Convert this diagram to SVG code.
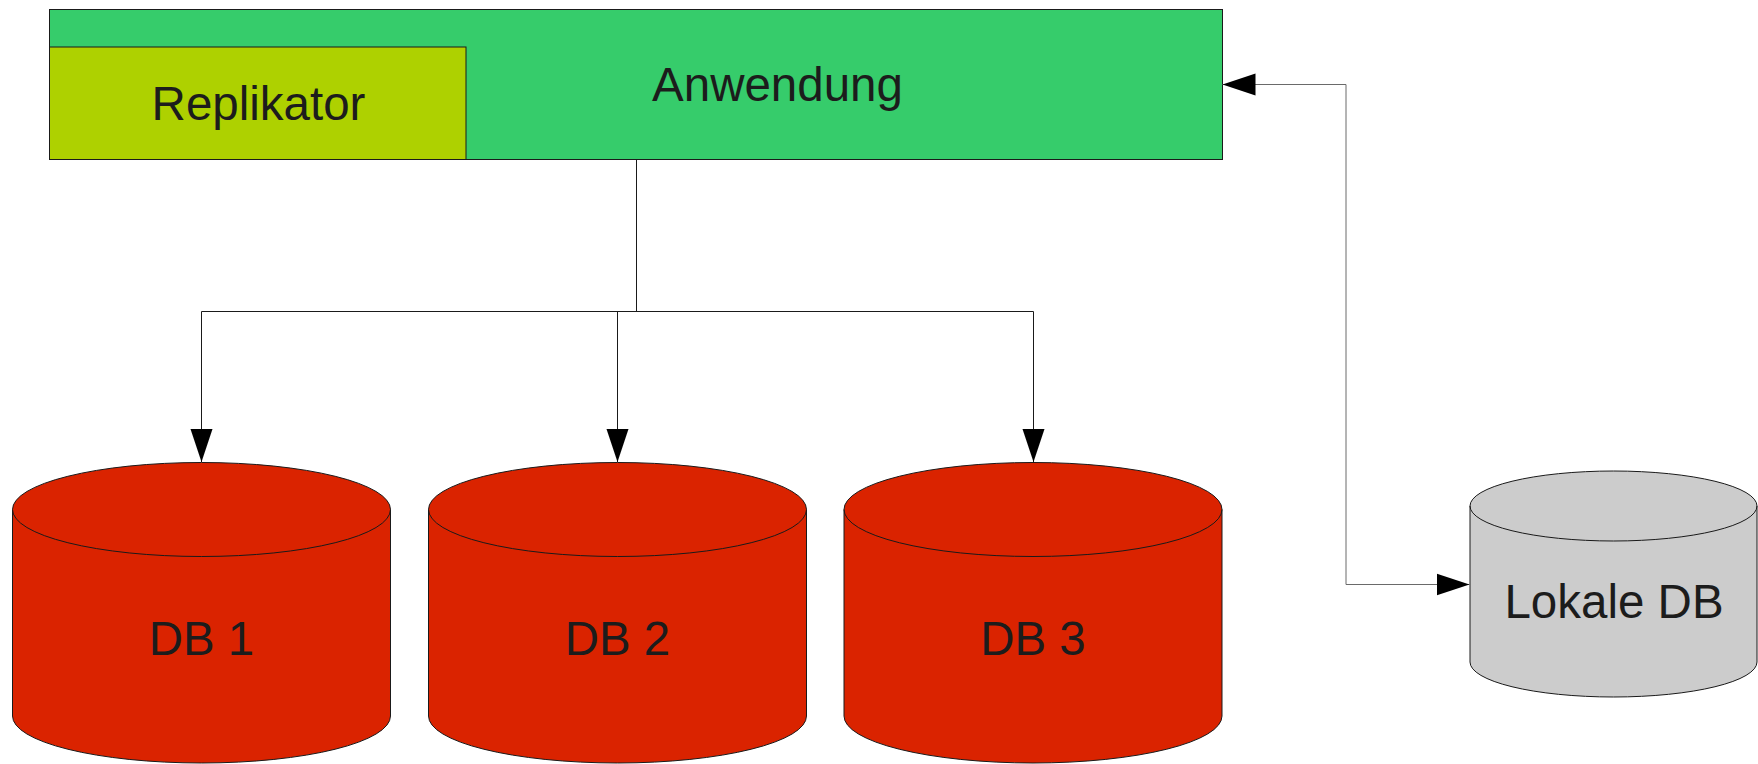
<svg xmlns="http://www.w3.org/2000/svg" width="1758" height="764" viewBox="0 0 1758 764">
<style>
text{font-family:"Liberation Sans",Arial,sans-serif;font-size:47.5px;fill:#1c1c1c;text-anchor:middle}
.box{stroke:#1a1a1a;stroke-width:1}
.red{fill:#da2300}
.grey{fill:#cccccc}
.cyl{stroke:#1a1a1a;stroke-width:1}
.ln{fill:none;stroke:#1a1a1a;stroke-width:1}
.lg{fill:none;stroke:#6a6a6a;stroke-width:1}
</style>
<defs>
<marker id="ah" markerUnits="userSpaceOnUse" markerWidth="34" markerHeight="24" refX="33" refY="11" orient="auto" viewBox="0 0 34 22">
<path d="M0,0 L33,11 L0,22 Z" fill="#000"/>
</marker>
</defs>
<rect width="1758" height="764" fill="#fff"/>
<g id="anwendung">
<rect class="box" x="49.5" y="9.5" width="1173" height="150" fill="#36cc6b"/>
<text x="777.5" y="101">Anwendung</text>
</g>
<g id="replikator">
<rect class="box" x="49.5" y="47" width="416.5" height="112.5" fill="#aed100"/>
<text x="258.5" y="120">Replikator</text>
</g>
<g id="db1">
<path class="cyl red" d="M12.5,509.5 A189,47 0 0 1 390.5,509.5 L390.5,716 A189,47 0 0 1 12.5,716 Z"/>
<path class="cyl" fill="none" d="M12.5,509.5 A189,47 0 0 0 390.5,509.5"/>
<text x="201.5" y="655">DB 1</text>
</g>
<g id="db2">
<path class="cyl red" d="M428.5,509.5 A189,47 0 0 1 806.5,509.5 L806.5,716 A189,47 0 0 1 428.5,716 Z"/>
<path class="cyl" fill="none" d="M428.5,509.5 A189,47 0 0 0 806.5,509.5"/>
<text x="617.5" y="655">DB 2</text>
</g>
<g id="db3">
<path class="cyl red" d="M844,509.5 A189,47 0 0 1 1222,509.5 L1222,716 A189,47 0 0 1 844,716 Z"/>
<path class="cyl" fill="none" d="M844,509.5 A189,47 0 0 0 1222,509.5"/>
<text x="1033" y="655">DB 3</text>
</g>
<g id="lokale-db">
<path class="cyl grey" d="M1470,506 A143.5,35 0 0 1 1757,506 L1757,662 A143.5,35 0 0 1 1470,662 Z"/>
<path class="cyl" fill="none" d="M1470,506 A143.5,35 0 0 0 1757,506"/>
<text x="1614" y="618">Lokale DB</text>
</g>
<g id="connectors">
<path class="ln" d="M636.5,160 V311.5"/>
<path class="ln" d="M201.5,311.5 H1033.5"/>
<path class="ln" d="M201.5,311.5 V462" marker-end="url(#ah)"/>
<path class="ln" d="M617.5,311.5 V462" marker-end="url(#ah)"/>
<path class="ln" d="M1033.5,311.5 V462" marker-end="url(#ah)"/>
<path class="lg" d="M1346,84.5 H1222.5" marker-end="url(#ah)"/>
<path class="lg" d="M1346,84.5 V584.5 H1469.5" marker-end="url(#ah)"/>
</g>
</svg>
